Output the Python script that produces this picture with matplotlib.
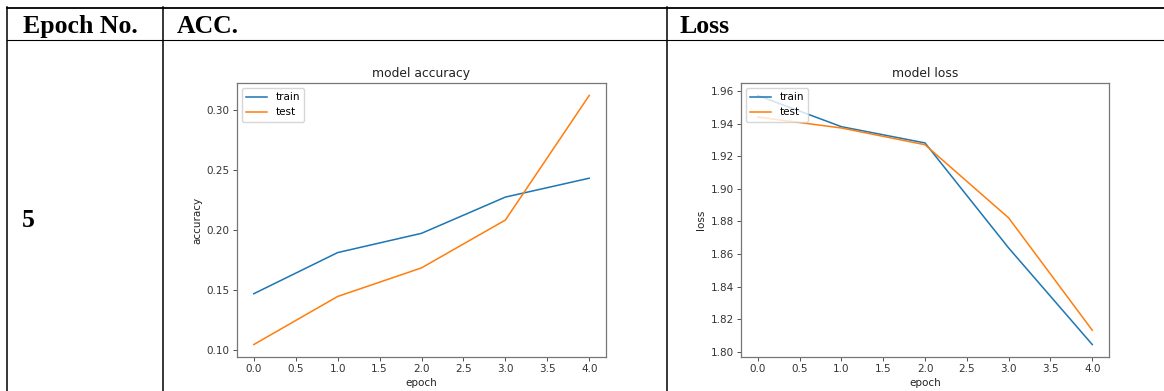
import matplotlib.pyplot as plt
from matplotlib.lines import Line2D

# training history, 5 epochs
epochs = [0, 1, 2, 3, 4]
acc_train = [0.1467, 0.1811, 0.1972, 0.2275, 0.2433]
acc_test = [0.1042, 0.1444, 0.1683, 0.2083, 0.3125]
loss_train = [1.9575, 1.9383, 1.9283, 1.8637, 1.8043]
loss_test = [1.9442, 1.9375, 1.9272, 1.8822, 1.8131]

headers = ["Epoch No.", "ACC.", "Loss"]
row_label = "5"

W, H = 1164, 391
S = 0.744  # the plots sit in the table at reduced size

fig = plt.figure(figsize=(W / 100, H / 100), dpi=100)


def px(x, y):
    return x / W, 1 - y / H


def hline(y, x0, x1, lw):
    (a, b), (c, d) = px(x0, y), px(x1, y)
    fig.add_artist(Line2D([a, c], [b, d], color="black", lw=lw))


def vline(x, y0, y1, lw):
    (a, b), (c, d) = px(x, y0), px(x, y1)
    fig.add_artist(Line2D([a, c], [b, d], color="black", lw=lw))


# table grid
hline(7.5, 6.5, W, 1.3)
hline(40, 6.5, W, 0.8)
vline(7, 7, H, 1.1)
vline(163, 7, H, 1.1)
vline(667, 7, H, 1.1)

hdr_font = dict(family="Liberation Serif", fontweight="bold", fontsize=18.5)
for x, txt in zip([23, 177, 680], headers):
    fig.text(*px(x, 33), txt, ha="left", va="baseline", **hdr_font)
fig.text(*px(22, 227), row_label, ha="left", va="baseline", **hdr_font)


def small_plot(rect, tr, te, title, ylabel):
    x0, y0, x1, y1 = rect
    l, t = px(x0, y0)
    r, b = px(x1, y1)
    ax = fig.add_axes([l, b, r - l, t - b])
    ax.plot(epochs, tr, lw=1.5 * S, color="#1f77b4")
    ax.plot(epochs, te, lw=1.5 * S, color="#ff7f0e")
    ax.set_title(title, fontsize=12 * S, pad=6 * S, color="#222222")
    ax.set_xlabel("epoch", fontsize=10 * S, labelpad=4 * S, color="#222222")
    ax.set_ylabel(ylabel, fontsize=10 * S, labelpad=4 * S, color="#222222")
    ax.tick_params(labelsize=10 * S, length=3.5 * S, width=0.8 * S,
                   pad=3.5 * S, colors="#333333")
    for sp in ax.spines.values():
        sp.set_linewidth(0.9)
        sp.set_color("#777777")
    ax.legend(["train", "test"], loc="upper left", fontsize=10 * S)
    return ax


small_plot((237, 83, 606, 357), acc_train, acc_test, "model accuracy", "accuracy")
small_plot((741, 83, 1109, 357), loss_train, loss_test, "model loss", "loss")

fig.savefig("out.png", dpi=100)
